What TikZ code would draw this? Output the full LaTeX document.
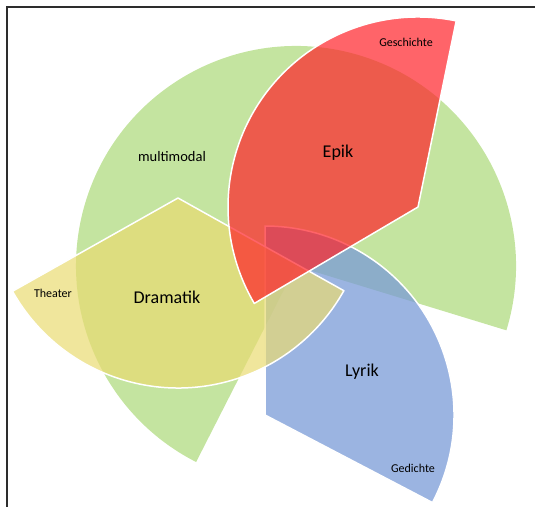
\documentclass[tikz,border=0pt]{standalone}
\usepackage{fontspec}
\setmainfont{Carlito}

\definecolor{modgreen}{RGB}{196,228,160}
\definecolor{epired}{RGB}{255,34,41}
\definecolor{dramyellow}{RGB}{233,219,114}
\definecolor{lyrblue}{RGB}{122,155,215}
\definecolor{framegray}{RGB}{45,45,45}

\begin{document}
\begin{tikzpicture}
  [ x=1pt, y=1pt
  , sector/.style={draw=white, line width=1.5pt, line join=round}
  , big/.style={font=\fontsize{18}{20}\selectfont}
  , small/.style={font=\fontsize{12}{14}\selectfont}
  ]

  \useasboundingbox (0,0) rectangle (535,507);

  % frame, top and left only
  \draw[framegray, line width=1.6pt] (535,500) -- (7,500) -- (7,0);

  % multimodal: big pie with a slice cut out
  \fill[modgreen] (296,241) -- ++(-17:220pt)
    arc[start angle=-17, end angle=243, radius=220pt] -- cycle;

  % Lyrik
  \filldraw[sector, fill=lyrblue, fill opacity=0.75] (265,92) -- ++(-27.6:189pt)
    arc[start angle=-27.6, end angle=90, radius=189pt] -- cycle;

  % Dramatik
  \filldraw[sector, fill=dramyellow, fill opacity=0.7] (178,309) -- ++(209.4:190pt)
    arc[start angle=209.4, end angle=330.8, radius=190pt] -- cycle;

  % Epik
  \filldraw[sector, fill=epired, fill opacity=0.7] (418,300) -- ++(78.4:190pt)
    arc[start angle=78.4, end angle=210.5, radius=190pt] -- cycle;

  \node[small, font=\fontsize{14.5}{16}\selectfont] (multi) at (172,350) {multimodal};
  \node[big]   (epik)  at (338,354) {Epik};
  \node[small] (gesch) at (406,465) {Geschichte};
  \node[big]   (drama) at (167,210) {Dramatik};
  \node[small] (theat) at (53,214)  {Theater};
  \node[big]   (lyrik) at (362,135) {Lyrik};
  \node[small] (gedi)  at (413,39)  {Gedichte};

\end{tikzpicture}
\end{document}
